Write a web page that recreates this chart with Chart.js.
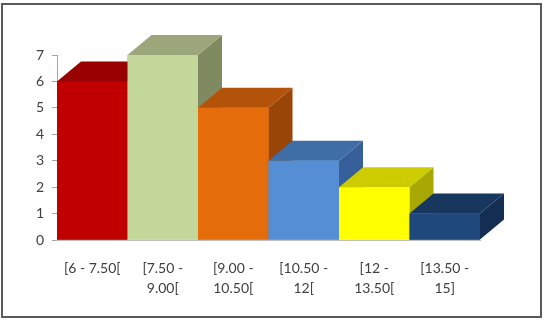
<!DOCTYPE html>
<html>
<head>
<meta charset="utf-8">
<script src="https://cdn.jsdelivr.net/npm/chart.js@4.4.1/dist/chart.umd.min.js"></script>
<style>
  html, body { margin: 0; padding: 0; background: #fff; }
  #wrap { width: 544px; height: 320px; }
</style>
</head>
<body>
<div id="wrap"><canvas id="chart" width="544" height="320"></canvas></div>
<script>
// Data
const categories = [
  "[6 - 7.50[",
  ["[7.50 -", "9.00["],
  ["[9.00 -", "10.50["],
  ["[10.50 -", "12["],
  ["[12 -", "13.50["],
  ["[13.50 -", "15]"],
];
const counts = [6, 7, 5, 3, 2, 1];
const yTicks = [0, 1, 2, 3, 4, 5, 6, 7];

// Colours per bar: front, top, side
const FRONT = ["#c00000", "#c4d79b", "#e46c0a", "#558ed5", "#ffff00", "#1f497d"];
const TOP = ["#990000", "#9ba67a", "#b35309", "#3f6ea6", "#cccc00", "#17375e"];
const SIDE = ["#7a0000", "#7f8a60", "#984507", "#37609a", "#a8a800", "#132e52"];

const DEPTH_X = 24;
const DEPTH_Y = 20;

// Draws the 3D boxes over each bar element, left to right
const boxes3d = {
  id: "boxes3d",
  afterDatasetsDraw(chart) {
    const ctx = chart.ctx;
    const meta = chart.getDatasetMeta(0);
    ctx.save();
    meta.data.forEach((bar, i) => {
      const left = bar.x - bar.width / 2;
      const right = bar.x + bar.width / 2;
      const top = bar.y;
      const base = bar.base;

      // side
      ctx.fillStyle = SIDE[i];
      ctx.beginPath();
      ctx.moveTo(right, top);
      ctx.lineTo(right + DEPTH_X, top - DEPTH_Y);
      ctx.lineTo(right + DEPTH_X, base - DEPTH_Y);
      ctx.lineTo(right, base);
      ctx.closePath();
      ctx.fill();

      // top
      ctx.fillStyle = TOP[i];
      ctx.beginPath();
      ctx.moveTo(left, top);
      ctx.lineTo(left + DEPTH_X, top - DEPTH_Y);
      ctx.lineTo(right + DEPTH_X, top - DEPTH_Y);
      ctx.lineTo(right, top);
      ctx.closePath();
      ctx.fill();

      // front
      ctx.fillStyle = FRONT[i];
      ctx.fillRect(left, top, right - left, base - top);
    });
    ctx.restore();
  },
};

// Outer frame
const frame = {
  id: "frame",
  afterDraw(chart) {
    const ctx = chart.ctx;
    ctx.save();
    ctx.strokeStyle = "#5a5a5a";
    ctx.lineWidth = 2;
    ctx.strokeRect(2, 4, 539, 313);
    ctx.restore();
  },
};

const ctx = document.getElementById("chart").getContext("2d");
new Chart(ctx, {
  type: "bar",
  data: {
    labels: categories,
    datasets: [
      {
        data: counts,
        backgroundColor: FRONT,
        borderWidth: 0,
        barPercentage: 1,
        categoryPercentage: 1,
      },
    ],
  },
  options: {
    responsive: false,
    animation: false,
    layout: {
      padding: { top: 55, right: 64, bottom: 0, left: 0 },
    },
    plugins: {
      legend: { display: false },
      tooltip: { enabled: false },
    },
    scales: {
      y: {
        min: 0,
        max: 7,
        afterFit: (scale) => {
          scale.width = 57;
        },
        afterBuildTicks: (scale) => {
          scale.ticks = yTicks.map((v) => ({ value: v }));
        },
        border: { color: "#a6a6a6", width: 1 },
        grid: {
          display: true,
          drawOnChartArea: false,
          drawTicks: true,
          tickLength: 5,
          color: "#a6a6a6",
        },
        ticks: {
          padding: 8,
          color: "#404040",
          font: { family: "Lato", size: 14 },
        },
      },
      x: {
        afterFit: (scale) => {
          scale.height = 80;
        },
        border: { color: "#bfbfbf", width: 1 },
        grid: { display: false, drawTicks: false },
        ticks: {
          padding: 19,
          maxRotation: 0,
          autoSkip: false,
          color: "#404040",
          font: { family: "Lato", size: 14, lineHeight: 1.4 },
        },
      },
    },
  },
  plugins: [boxes3d, frame],
});
</script>
</body>
</html>
